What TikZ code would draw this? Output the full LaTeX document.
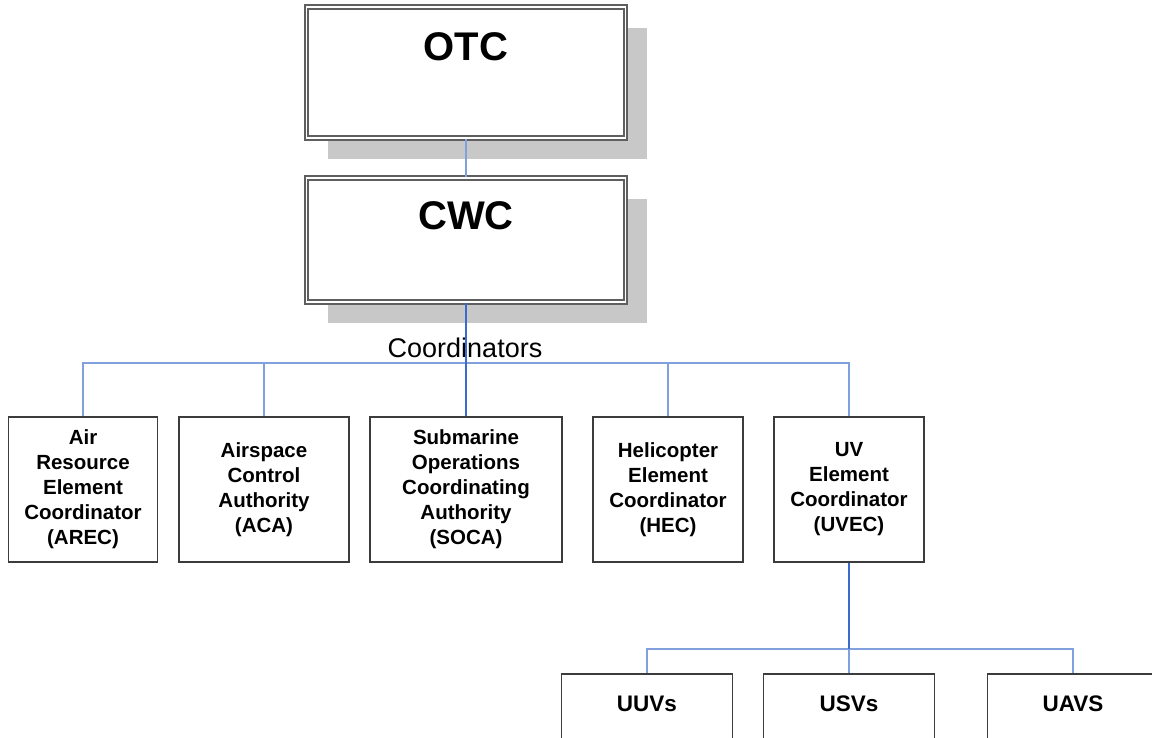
\documentclass[tikz,border=0pt]{standalone}
\usepackage{fontspec}
\setmainfont{Liberation Sans}
\definecolor{linkblue}{RGB}{128,160,222}
\definecolor{trunkblue}{RGB}{58,108,208}
\definecolor{boxline}{RGB}{60,60,60}
\definecolor{frameline}{RGB}{95,95,95}
\definecolor{shade}{RGB}{200,200,200}
\tikzset{
  headbox/.style={draw=frameline, double=white, double distance=1.3pt, line width=1.9pt,
    fill=white, minimum width=319pt, inner sep=0pt},
  shadowbox/.style={fill=shade, draw=none},
  unitbox/.style={draw=boxline, line width=1.6pt, fill=white, minimum height=145pt,
    inner sep=0pt, align=center, font=\bfseries\fontsize{20.5}{25}\selectfont},
  leafbox/.style={draw=boxline, line width=1.6pt, fill=white, minimum width=171pt,
    minimum height=130pt, inner sep=0pt},
  headtext/.style={font=\bfseries\fontsize{40}{44}\selectfont, inner sep=0pt},
  leaftext/.style={font=\bfseries\fontsize{22.5}{26}\selectfont, inner sep=0pt},
  link/.style={draw=linkblue, line width=1.8pt},
  trunk/.style={draw=trunkblue, line width=2.2pt},
}
\begin{document}
\begin{tikzpicture}[x=1pt, y=-1pt]
\clip (0,0) rectangle (1152,738);
\fill[white] (0,0) rectangle (1152,738);

% command level: drop shadows, then the framed boxes
\fill[shadowbox] (328,28) rectangle (647,159);
\fill[shadowbox] (328,199) rectangle (647,323);
\node[headbox, minimum height=131pt] (otc) at (466,72.5) {};
\node[headbox, minimum height=124pt] (cwc) at (466,240) {};
\node[headtext] (otct) at (466,47) {OTC};
\node[headtext] (cwct) at (466,216) {CWC};

% coordinators
\node[font=\fontsize{27}{30}\selectfont, inner sep=0pt] (coordlbl) at (465,348) {Coordinators};
\coordinate (bus) at (0,363);
\node[unitbox, minimum width=149pt] (arec) at (83,489.5)
  {Air\\Resource\\Element\\Coordinator\\(AREC)};
\node[unitbox, minimum width=170pt] (aca) at (264,489.5)
  {Airspace\\Control\\Authority\\(ACA)};
\node[unitbox, minimum width=192pt] (soca) at (466,489.5)
  {Submarine\\Operations\\Coordinating\\Authority\\(SOCA)};
\node[unitbox, minimum width=150pt] (hec) at (668,489.5)
  {Helicopter\\Element\\Coordinator\\(HEC)};
\node[unitbox, minimum width=150pt] (uvec) at (849,489.5)
  {UV\\Element\\Coordinator\\(UVEC)};

% unmanned vehicle types
\coordinate (bus2) at (0,649);
\node[leafbox] (uuv) at (647,739) {};
\node[leafbox] (usv) at (849,739) {};
\node[leafbox] (uav) at (1073,739) {};
\node[leaftext] (uuvt) at (647,704) {UUVs};
\node[leaftext] (usvt) at (849,704) {USVs};
\node[leaftext] (uavt) at (1073,704) {UAVS};

% connectors
\draw[link] (otc.south) -- (cwc.north);
\draw[link] (arec.north) -- (arec.north |- bus) -- (uvec.north |- bus) -- (uvec.north);
\draw[link] (aca.north) -- (aca.north |- bus);
\draw[link] (hec.north) -- (hec.north |- bus);
\draw[trunk] (cwc.south) -- (soca.north);
\draw[link] (uuv.north) -- (uuv.north |- bus2) -- (uav.north |- bus2) -- (uav.north);
\draw[link] (usv.north) -- (usv.north |- bus2);
\draw[trunk] (uvec.south) -- (uvec.south |- bus2);
\end{tikzpicture}
\end{document}
